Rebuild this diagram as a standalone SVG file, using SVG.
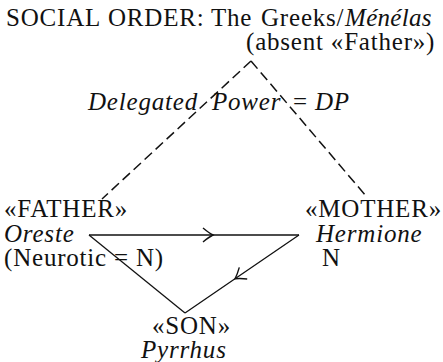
<svg xmlns="http://www.w3.org/2000/svg" width="443" height="362" viewBox="0 0 443 362">
  <style>
    text { font-family: "Liberation Serif", "Times New Roman", serif; font-size: 25px; fill: #111; letter-spacing: 0.8px; }
    .it { font-style: italic; }
    .dash { fill: none; stroke: #111; stroke-width: 1.5; stroke-dasharray: 10 5; }
    .solid { fill: none; stroke: #111; stroke-width: 1.3; }
  </style>
  <defs>
    <!-- open chevron arrowhead placed at the middle vertex of a connector -->
    <marker id="chev" viewBox="-12 -8 14 16" markerWidth="14" markerHeight="16" refX="0" refY="0" orient="auto" markerUnits="userSpaceOnUse">
      <path d="M-10,-7 Q-4,-2 0,0 Q-4,2 -10,7" fill="none" stroke="#111" stroke-width="1.4"/>
    </marker>
  </defs>

  <g id="social-order">
    <text y="26"><tspan x="6">SOCIAL</tspan><tspan x="108">ORDER:</tspan><tspan x="211">The</tspan><tspan x="261">Greeks/</tspan><tspan class="it" x="345" letter-spacing="0.3">Ménélas</tspan></text>
    <text x="246" y="50">(absent «Father»)</text>
  </g>

  <g id="delegated-power">
    <text y="110"><tspan class="it" x="88">Delegated</tspan><tspan class="it" x="212">Power</tspan><tspan x="293">=</tspan><tspan class="it" x="315">DP</tspan></text>
  </g>

  <g id="father">
    <text x="4" y="217">«FATHER»</text>
    <text class="it" x="4" y="242">Oreste</text>
    <text x="4" y="266">(Neurotic  =  N)</text>
  </g>

  <g id="mother">
    <text x="305" y="217">«MOTHER»</text>
    <text class="it" x="316" y="242">Hermione</text>
    <text x="322" y="266">N</text>
  </g>

  <g id="son">
    <text x="152" y="334">«SON»</text>
    <text class="it" x="141" y="358">Pyrrhus</text>
  </g>

  <g id="connectors">
    <path class="dash" d="M251,61 L102,199"/>
    <path class="dash" d="M251,61 L366,196"/>
    <path class="solid" d="M89,235 L213,235 L299,235" marker-mid="url(#chev)"/>
    <path class="solid" d="M299,235 L235,278.8 L185,313" marker-mid="url(#chev)"/>
    <path class="solid" d="M89,235 L185,313"/>
  </g>
</svg>
